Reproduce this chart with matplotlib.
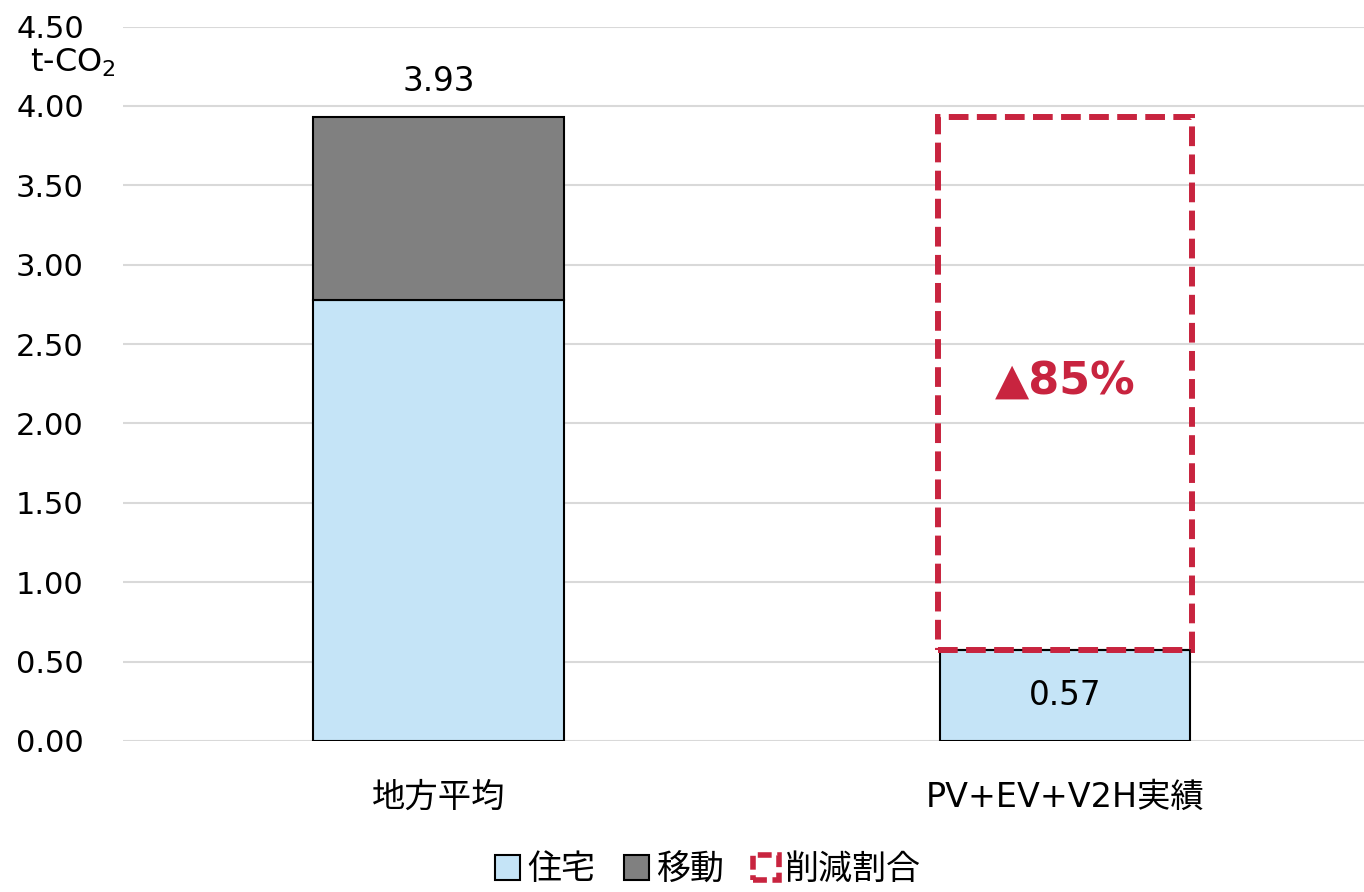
import matplotlib
matplotlib.use("Agg")
import matplotlib.pyplot as plt
from matplotlib.patches import Rectangle

plt.rcParams['font.family'] = ['DejaVu Sans', 'Noto Sans CJK JP']
plt.rcParams['mathtext.fontset'] = 'dejavusans'

categories = ['地方平均', 'PV+EV+V2H実績']
housing = [2.78, 0.57]
mobility = [1.15, 0.0]
totals = [3.93, 0.57]
reduction_label = '▲85%'
yticks = [0.0, 0.5, 1.0, 1.5, 2.0, 2.5, 3.0, 3.5, 4.0, 4.5]

blue = '#C5E4F7'
gray = '#808080'
red = '#C8243F'

fig = plt.figure(figsize=(13.64, 8.92), dpi=100)
ax = fig.add_axes([0.090, 0.1693, 0.910, 0.8009])

x = list(range(len(categories)))
w = 0.40
ax.bar(x, housing, width=w, color=blue, edgecolor='black', linewidth=1.5, zorder=3)
ax.bar(x, mobility, width=w, bottom=housing, color=gray, edgecolor='black',
       linewidth=1.5, zorder=3)

# dashed box showing the reduction on the second bar
ax.bar(x[1], totals[0] - totals[1], width=w + 0.005, bottom=totals[1], fill=False,
       edgecolor=red, linewidth=4.3, linestyle=(0, (3.3, 1.4)), zorder=4)
ax.text(x[1], (totals[0] + totals[1]) / 2 + 0.02, reduction_label, ha='center',
        va='center', fontsize=32, fontweight='bold', color=red,
        family=['DejaVu Sans', 'Noto Sans CJK JP'], zorder=5)

# value labels
ax.text(x[0], totals[0] + 0.12, f'{totals[0]:.2f}', ha='center', va='bottom', fontsize=23.5)
ax.text(x[1], housing[1] / 2, f'{housing[1]:.2f}', ha='center', va='center', fontsize=23.5,
        zorder=5)

ax.set_xlim(-0.504, 1.477)
ax.set_ylim(0, 4.5)
ax.set_yticks(yticks)
ax.set_yticklabels([f'{v:.2f}' for v in yticks], fontsize=22)
ax.set_xticks(x)
ax.set_xticklabels(categories, fontsize=24)
ax.tick_params(axis='y', length=0, pad=28)
ax.tick_params(axis='x', length=0, pad=29)
ax.yaxis.grid(True, color='#D9D9D9', linewidth=1.5, zorder=0)
ax.set_axisbelow(True)
for s in ax.spines.values():
    s.set_visible(False)

fig.text(0.022, 0.930, 't-CO$_2$', fontsize=23, ha='left', va='center')

handles = [
    Rectangle((0, 0), 1, 1, facecolor=blue, edgecolor='black', linewidth=1.5),
    Rectangle((0, 0), 1, 1, facecolor=gray, edgecolor='black', linewidth=1.5),
    Rectangle((0, 0), 1, 1, facecolor='white', edgecolor=red, linewidth=4,
              linestyle=(0, (2.5, 1))),
]
fig.legend(handles, ['住宅', '移動', '削減割合'], loc='lower center',
           bbox_to_anchor=(0.519, -0.028), ncol=3, frameon=False, fontsize=24.5,
           handlelength=0.75, handleheight=0.75, handletextpad=0.2, columnspacing=0.85)

fig.savefig('out.png', dpi=100)
